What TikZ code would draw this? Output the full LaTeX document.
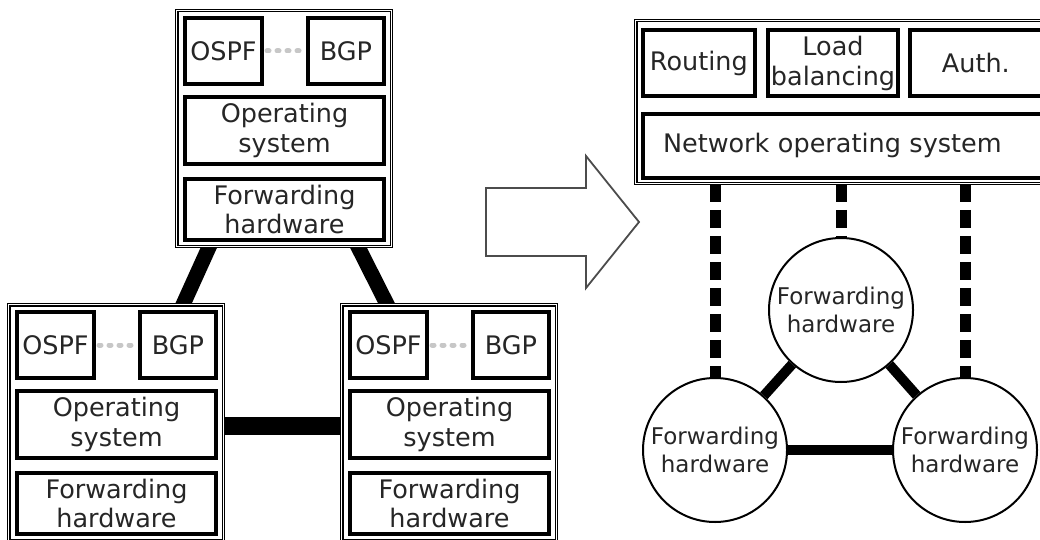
\documentclass[tikz,border=0pt]{standalone}
\usepackage{fontspec}
\setmainfont{DejaVu Sans}
\usetikzlibrary{calc,backgrounds}

\tikzset{
  boxframe/.style={draw=black, line width=1.1pt, double=white, double distance=1.3pt,
    fill=white, inner sep=0pt},
  unitbox/.style={draw=black, line width=4pt, fill=white, inner sep=0pt, align=center,
    text=black!85, font=\fontsize{25.5}{29.5}\selectfont},
  hwnode/.style={circle, draw=black, line width=2pt, fill=white, inner sep=0pt,
    minimum size=144pt, align=center, text=black!85, font=\fontsize{23}{28}\selectfont},
  peering/.style={draw=black!22, line width=5pt, line cap=round,
    dash pattern=on 2pt off 8pt, shorten <=3pt, shorten >=3pt},
  trunk/.style={draw=black, line width=15pt, shorten <=-8pt, shorten >=-8pt},
  fabric/.style={draw=black, line width=10pt},
  control/.style={draw=black, line width=11pt, dash pattern=on 18pt off 8pt},
  shiftarrow/.style={draw=black!70, line width=1.8pt, fill=white, line join=miter},
  pics/router/.style={code={
    \node[boxframe, minimum width=214.5, minimum height=235.5] (-frame) at (109,119.5) {};
    \node[unitbox, minimum width=77, minimum height=66] (-ospf) at (48.5,42) {OSPF};
    \node[unitbox, minimum width=76, minimum height=66] (-bgp) at (171,42) {BGP};
    \node[unitbox, minimum width=199, minimum height=67] (-os) at (109.5,121.5) {Operating\\system};
    \node[unitbox, minimum width=199, minimum height=61] (-fh) at (109.5,200.5) {Forwarding\\hardware};
    \draw[peering] (-ospf) -- (-bgp);
  }}
}

\begin{document}
\begin{tikzpicture}[x=1pt,y=-1pt]
\useasboundingbox (0,0) rectangle (1040,540);
\clip (0,0) rectangle (1040,540);

% traditional routers, each with its own control plane
\pic (r1) at (175,9) {router};
\pic (r2) at (7,303) {router};
\pic (r3) at (340,303) {router};

% transition arrow
\draw[shiftarrow] (486,188) -- (586,188) -- (586,156) -- (639,222)
  -- (586,288) -- (586,256) -- (486,256) -- cycle;

% software-defined network: controller on top
\node[boxframe, minimum width=424.25, minimum height=162.5] (ctrl) at (847.9,102) {};
\node[unitbox, minimum width=111.7, minimum height=66] (routing) at (698.85,63.3) {Routing};
\node[unitbox, minimum width=130, minimum height=66] (lb) at (833,63.3) {Load\\balancing};
\node[unitbox, minimum width=132.3, minimum height=66] (auth) at (975.85,63.3) {Auth.};
\node[unitbox, minimum height=64.3, text width=362, align=left, inner xsep=20pt] (nos)
  at (844,145.85) {Network operating system};

% forwarding elements
\node[hwnode] (fht) at (841,310) {Forwarding\\hardware};
\node[hwnode] (fhl) at (715,450) {Forwarding\\hardware};
\node[hwnode] (fhr) at (965,450) {Forwarding\\hardware};

\begin{scope}[on background layer]
  \fill[white] (0,0) rectangle (1040,540);
  % links between the routers
  \draw[trunk] ($(r1-frame.south west)+(33,0)$) -- ($(r2-frame.north west)+(175,0)$);
  \draw[trunk] ($(r1-frame.south west)+(181.8,0)$) -- ($(r3-frame.north west)+(45.8,0)$);
  \draw[trunk, line width=18pt] ($(r2-frame.east)+(0,3)$) -- ($(r3-frame.west)+(0,3)$);
  % data-plane links
  \draw[fabric] (fht) -- (fhl);
  \draw[fabric] (fht) -- (fhr);
  \draw[fabric] (fhl) -- (fhr);
  % control channels
  \draw[control] (ctrl.south -| fhl) -- (fhl);
  \draw[control] (ctrl.south -| fht) -- (fht);
  \draw[control] (ctrl.south -| fhr) -- (fhr);
\end{scope}
\end{tikzpicture}
\end{document}
